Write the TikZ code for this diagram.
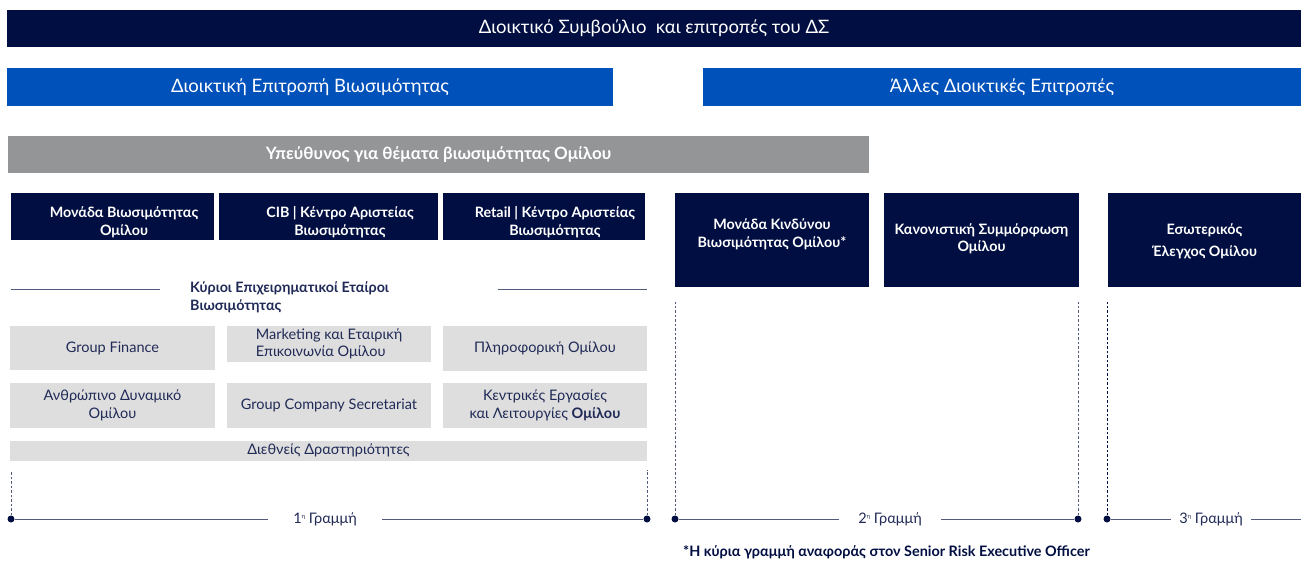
\documentclass[tikz,border=0pt]{standalone}
\usepackage{fontspec}
\setmainfont{Lato}
\usetikzlibrary{positioning}
\definecolor{navy}{RGB}{1,14,65}
\definecolor{bankblue}{RGB}{0,81,186}
\definecolor{bargray}{RGB}{147,149,151}
\definecolor{boxgray}{RGB}{222,222,222}
\definecolor{inknavy}{RGB}{32,42,86}
\definecolor{rulenavy}{RGB}{84,90,124}
\newcommand{\supeta}{\raisebox{0.7ex}{\fontsize{6}{6}\selectfont η}}
\tikzset{
  bar/.style={inner sep=0pt, outer sep=0pt, text=white},
  unitbox/.style={fill=navy, inner sep=0pt, outer sep=0pt},
  unittext/.style={text=white, align=center, inner sep=0pt,
    font=\bfseries\fontsize{14.3}{18}\selectfont},
  partner/.style={fill=boxgray, inner sep=0pt, outer sep=0pt, text=inknavy, align=center,
    font=\fontsize{14.5}{17.5}\selectfont},
  linedot/.style={circle, fill=navy, inner sep=0pt, minimum size=7pt},
  linelabel/.style={text=inknavy, font=\fontsize{14.5}{16}\selectfont, inner ysep=0pt},
  rule/.style={draw=rulenavy, line width=0.9pt},
  guide/.style={draw=rulenavy, line width=0.7pt, dash pattern=on 2.5pt off 2pt},
}

\begin{document}
\begin{tikzpicture}[x=1pt,y=-1pt]
  \useasboundingbox[fill=white] (0,0) rectangle (1301,560);

  % board and committees
  \node[bar, fill=navy, minimum width=1294pt, minimum height=37pt,
    font=\fontsize{18.5}{20}\selectfont] (board) at (654,28.5)
    {Διοικτικό Συμβούλιο\ \ και επιτροπές του ΔΣ};
  \node[bar, fill=bankblue, minimum width=606pt, minimum height=38pt,
    font=\fontsize{18.5}{20}\selectfont] (susc) at (310,87)
    {Διοικτική Επιτροπή Βιωσιμότητας};
  \node[bar, fill=bankblue, minimum width=598pt, minimum height=38pt,
    font=\fontsize{18.5}{20}\selectfont] (otherc) at (1002,87)
    {Άλλες Διοικτικές Επιτροπές};
  \node[bar, fill=bargray, minimum width=861pt, minimum height=37pt,
    font=\bfseries\fontsize{17}{19}\selectfont] (head) at (438.5,154.5)
    {Υπεύθυνος για θέματα βιωσιμότητας Ομίλου};

  % first line units
  \node[unitbox, minimum width=203pt, minimum height=47pt] (grpunit) at (112.5,216.5) {};
  \node[unitbox, minimum width=219pt, minimum height=47pt] (cibunit) at (328.5,216.5) {};
  \node[unitbox, minimum width=202pt, minimum height=47pt] (retunit) at (544,216.5) {};
  \node[unittext] at (124,222) {Μονάδα Βιωσιμότητας\\Ομίλου};
  \node[unittext] at (340,222) {CIB | Κέντρο Αριστείας\\Βιωσιμότητας};
  \node[unittext] at (555,222) {Retail | Κέντρο Αριστείας\\Βιωσιμότητας};

  % second and third line units
  \node[unitbox, minimum width=194pt, minimum height=94pt] (riskunit) at (772,240) {};
  \node[unitbox, minimum width=195pt, minimum height=94pt] (compl) at (981.5,240) {};
  \node[unitbox, minimum width=193pt, minimum height=94pt] (audit) at (1204.5,240) {};
  \node[unittext] at (772,234) {Μονάδα Κινδύνου\\Βιωσιμότητας Ομίλου*};
  \node[unittext, font=\bfseries\fontsize{14.3}{17}\selectfont] at (981.5,238.5)
    {Κανονιστική Συμμόρφωση\\Ομίλου};
  \node[unittext, font=\bfseries\fontsize{14.3}{22}\selectfont] at (1204.5,241)
    {Εσωτερικός\\Έλεγχος Ομίλου};

  % business partners
  \node[text=inknavy, anchor=west, align=left, inner sep=0pt,
    font=\bfseries\fontsize{14.3}{18}\selectfont] (partners) at (190,297)
    {Κύριοι Επιχειρηματικοί Εταίροι\\Βιωσιμότητας};
  \draw[rule] (11,289) -- (160,289);
  \draw[rule] (498,289) -- (647,289);

  \node[partner, minimum width=205pt, minimum height=44pt] (finance) at (112.5,348) {Group Finance};
  \node[partner, minimum width=204pt, minimum height=36pt, align=left] (mkt) at (329,344)
    {Marketing και Εταιρική\\Επικοινωνία Ομίλου};
  \node[partner, minimum width=204pt, minimum height=45pt] (it) at (545,348.5) {Πληροφορική Ομίλου};
  \node[partner, minimum width=205pt, minimum height=45pt] (hr) at (112.5,405.5)
    {Ανθρώπινο Δυναμικό\\Ομίλου};
  \node[partner, minimum width=204pt, minimum height=45pt] (secr) at (329,405.5)
    {Group Company Secretariat};
  \node[partner, minimum width=204pt, minimum height=45pt] (ops) at (545,405.5)
    {Κεντρικές Εργασίες\\και Λειτουργίες \textbf{Ομίλου}};
  \node[partner, minimum width=637pt, minimum height=20pt] (intl) at (328.5,450.5)
    {Διεθνείς Δραστηριότητες};

  % lines of defence
  \node[linedot] (a1) at (11,519) {};
  \node[linedot] (b1) at (647,519) {};
  \node[linedot] (a2) at (675,519) {};
  \node[linedot] (b2) at (1078,519) {};
  \node[linedot] (a3) at (1107,519) {};
  \coordinate (b3) at (1301,519);
  \node[linelabel, inner xsep=25pt] (l1) at (325,519) {1\supeta\ Γραμμή};
  \node[linelabel, inner xsep=19pt] (l2) at (890,519) {2\supeta\ Γραμμή};
  \node[linelabel, inner xsep=8pt] (l3) at (1211,519) {3\supeta\ Γραμμή};
  \draw[rule] (a1) -- (l1.west);
  \draw[rule] (l1.east) -- (b1);
  \draw[rule] (a2) -- (l2.west);
  \draw[rule] (l2.east) -- (b2);
  \draw[rule] (a3) -- (l3.west);
  \draw[rule] (l3.east) -- (b3);

  \coordinate (t1) at (11,472);
  \coordinate (t2) at (647,470);
  \coordinate (t3) at (675,302);
  \coordinate (t4) at (1078,302);
  \coordinate (t5) at (1107,302);
  \draw[guide] (a1) -- (t1);
  \draw[guide] (b1) -- (t2);
  \draw[guide] (a2) -- (t3);
  \draw[guide] (b2) -- (t4);
  \draw[guide, draw=navy] (a3) -- (t5);

  % footnote
  \node[anchor=west, inner sep=0pt, text=navy, font=\bfseries\fontsize{14.4}{16}\selectfont] (note)
    at (683,552) {*Η κύρια γραμμή αναφοράς στον Senior Risk Executive Officer};
\end{tikzpicture}
\end{document}
